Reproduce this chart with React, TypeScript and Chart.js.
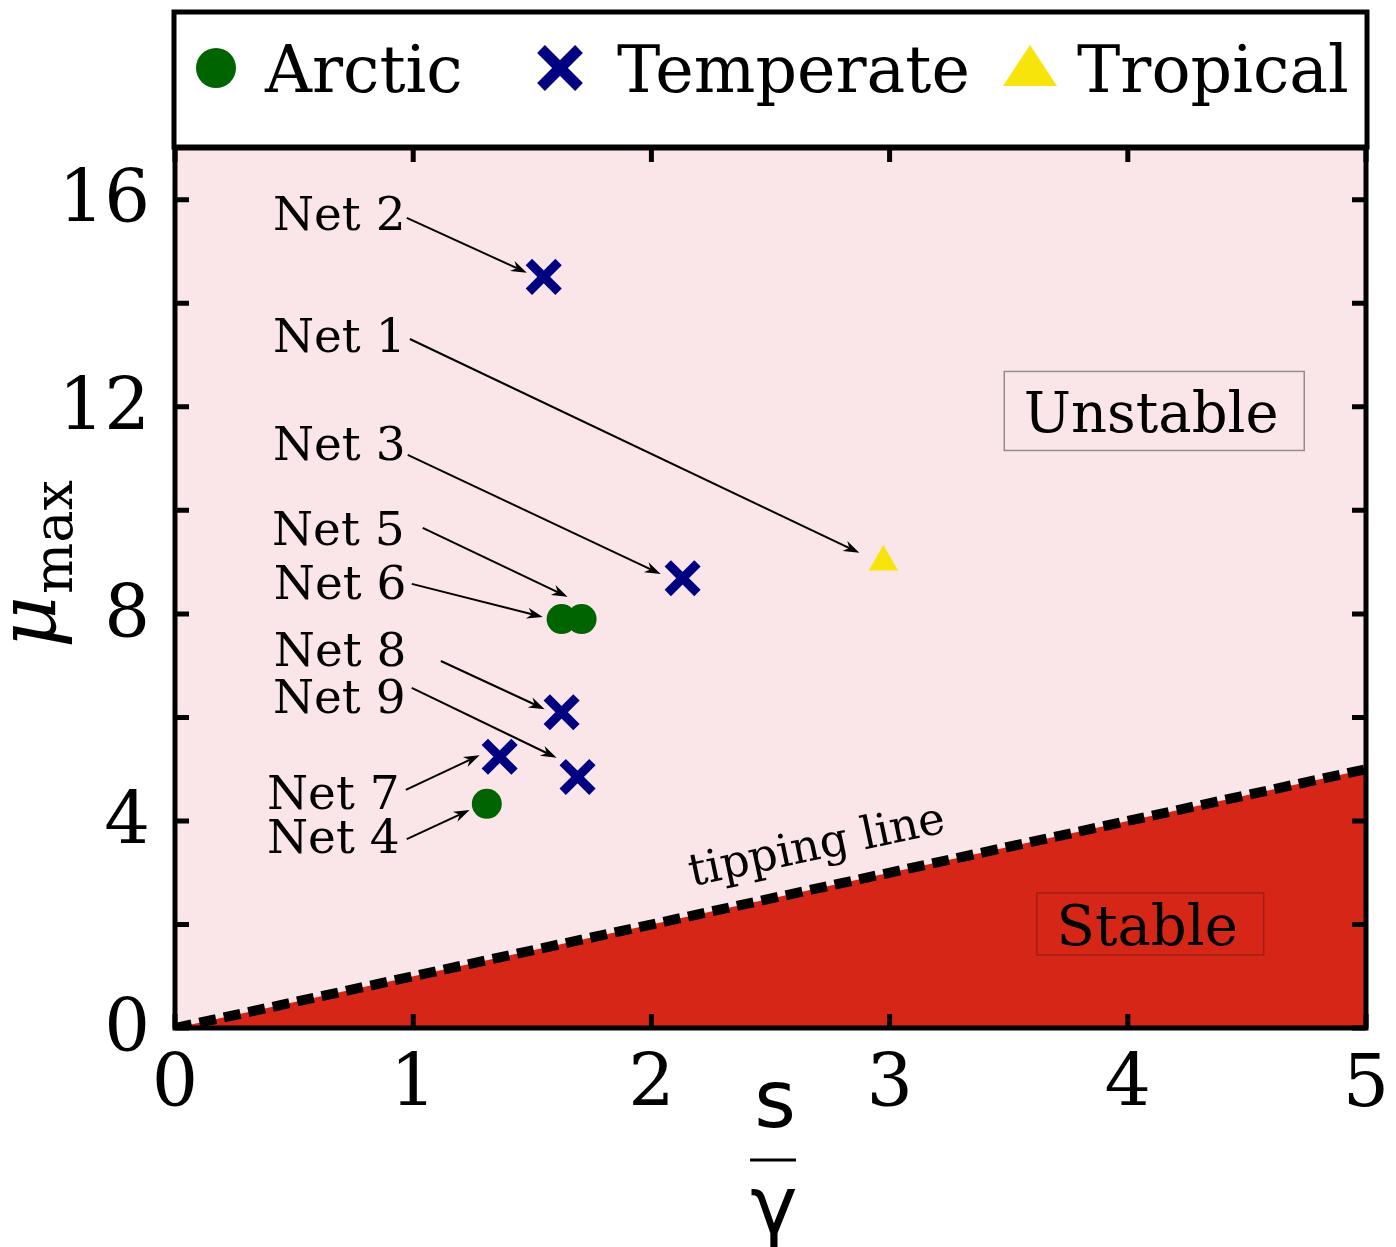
import React, { useEffect, useRef } from 'react';
import { Chart, registerables } from 'chart.js';

Chart.register(...registerables);

// ---------------- data ----------------
const seriesNames = ['Arctic', 'Temperate', 'Tropical'];

// Arctic: Net 4, Net 5, Net 6
const arcticX = [1.309, 1.707, 1.623];
const arcticY = [4.33, 7.9, 7.9];

// Temperate: Net 2, Net 3, Net 7, Net 8, Net 9
const temperateX = [1.548, 2.131, 1.363, 1.623, 1.69];
const temperateY = [14.51, 8.69, 5.24, 6.1, 4.85];

// Tropical: Net 1
const tropicalX = [2.974];
const tropicalY = [9.0];

// tipping line mu_max = s / gamma
const tippingX = [0, 5];
const tippingY = [0, 5];

const xMin = 0;
const xMax = 5;
const yMin = 0;
const yMax = 17;
const xTickStep = 1;
const yTickStep = 2;
const yLabelStep = 4;

// annotations (data coordinates): label text anchor, arrow start, arrow end
const netNames = ['Net 2', 'Net 1', 'Net 3', 'Net 5', 'Net 6', 'Net 8', 'Net 9', 'Net 7', 'Net 4'];
const netTextX = [0.411, 0.411, 0.411, 0.407, 0.415, 0.415, 0.411, 0.386, 0.386];
const netTextY = [15.75, 13.39, 11.3, 9.66, 8.62, 7.32, 6.41, 4.56, 3.71];
const arrowFromX = [0.973, 0.986, 0.977, 1.04, 0.994, 1.116, 0.994, 0.969, 0.973];
const arrowFromY = [15.65, 13.31, 11.07, 9.66, 8.58, 7.09, 6.57, 4.6, 3.65];
const arrowToX = [1.477, 2.873, 2.039, 1.648, 1.544, 1.552, 1.602, 1.279, 1.237];
const arrowToY = [14.59, 9.18, 8.77, 8.33, 7.94, 6.16, 5.22, 5.27, 4.21];

const regionNames = ['Unstable', 'Stable'];
const regionX = [4.111, 4.094];
const regionY = [11.92, 2.01];

const tippingLabel = 'tipping line';
const tippingLabelX = 2.17;
const tippingLabelY = 2.74;

// ---------------- styles ----------------
const W = 1396;
const H = 1247;
const SERIF = '"DejaVu Serif", serif';
const SANS = '"DejaVu Sans", sans-serif';
const PINK = 'rgb(250, 230, 233)';
const RED = 'rgb(214, 38, 24)';
const GREEN = '#006400';
const NAVY = '#000080';
const YELLOW = 'rgb(247, 228, 10)';

function drawArrow(ctx: CanvasRenderingContext2D, x1: number, y1: number, x2: number, y2: number) {
  const ang = Math.atan2(y2 - y1, x2 - x1);
  const len = 16;
  const hw = 5.5;
  const notch = 11;
  const bx = x2 - Math.cos(ang) * notch;
  const by = y2 - Math.sin(ang) * notch;
  ctx.save();
  ctx.strokeStyle = '#000';
  ctx.fillStyle = '#000';
  ctx.lineWidth = 2;
  ctx.beginPath();
  ctx.moveTo(x1, y1);
  ctx.lineTo(bx, by);
  ctx.stroke();
  const cx = x2 - Math.cos(ang) * len;
  const cy = y2 - Math.sin(ang) * len;
  const px = -Math.sin(ang);
  const py = Math.cos(ang);
  ctx.beginPath();
  ctx.moveTo(x2, y2);
  ctx.lineTo(cx + px * hw, cy + py * hw);
  ctx.lineTo(bx, by);
  ctx.lineTo(cx - px * hw, cy - py * hw);
  ctx.closePath();
  ctx.fill();
  ctx.restore();
}

const decorPlugin = {
  id: 'decor',
  beforeDraw(chart: any) {
    const { ctx, chartArea: a } = chart;
    ctx.save();
    ctx.fillStyle = '#fff';
    ctx.fillRect(0, 0, chart.width, chart.height);
    ctx.fillStyle = PINK;
    ctx.fillRect(a.left, a.top, a.right - a.left, a.bottom - a.top);
    ctx.restore();
  },
  afterDatasetsDraw(chart: any) {
    const { ctx, scales } = chart;
    const xs = scales.x;
    const ys = scales.y;
    ctx.save();

    // region labels with boxes
    const boxes = [
      { w: 300, h: 79, edge: 'rgb(150, 140, 142)' },
      { w: 227, h: 62, edge: 'rgb(160, 30, 20)' },
    ];
    regionNames.forEach((name, i) => {
      const cx = xs.getPixelForValue(regionX[i]);
      const cy = ys.getPixelForValue(regionY[i]);
      const b = boxes[i];
      ctx.lineWidth = 1.5;
      ctx.strokeStyle = b.edge;
      ctx.strokeRect(cx - b.w / 2, cy - b.h / 2, b.w, b.h);
      ctx.fillStyle = '#000';
      ctx.font = `56px ${SERIF}`;
      ctx.textAlign = 'center';
      ctx.textBaseline = 'alphabetic';
      ctx.fillText(name, cx - 3, cy + 21);
    });

    // tipping line label
    ctx.save();
    ctx.translate(xs.getPixelForValue(tippingLabelX), ys.getPixelForValue(tippingLabelY));
    ctx.rotate((-12 * Math.PI) / 180);
    ctx.font = `45px ${SERIF}`;
    ctx.textAlign = 'left';
    ctx.textBaseline = 'alphabetic';
    ctx.fillStyle = '#000';
    ctx.fillText(tippingLabel, 0, 0);
    ctx.restore();

    // net annotations
    ctx.font = `47px ${SERIF}`;
    ctx.textAlign = 'left';
    ctx.textBaseline = 'alphabetic';
    ctx.fillStyle = '#000';
    netNames.forEach((name, i) => {
      const tx = xs.getPixelForValue(netTextX[i]);
      const ty = ys.getPixelForValue(netTextY[i]);
      ctx.fillText(name, tx, ty + 17);
      drawArrow(
        ctx,
        xs.getPixelForValue(arrowFromX[i]),
        ys.getPixelForValue(arrowFromY[i]),
        xs.getPixelForValue(arrowToX[i]),
        ys.getPixelForValue(arrowToY[i])
      );
    });
    ctx.restore();
  },
  afterDraw(chart: any) {
    const { ctx, chartArea: a, scales } = chart;
    const xs = scales.x;
    const ys = scales.y;
    ctx.save();

    // spines
    ctx.strokeStyle = '#000';
    ctx.lineWidth = 5;
    ctx.strokeRect(a.left, a.top, a.right - a.left, a.bottom - a.top);

    // inside ticks on all sides
    const tl = 14;
    ctx.lineWidth = 5;
    ctx.beginPath();
    xs.ticks.forEach((t: any) => {
      const px = xs.getPixelForValue(t.value);
      ctx.moveTo(px, a.bottom);
      ctx.lineTo(px, a.bottom - tl);
      ctx.moveTo(px, a.top);
      ctx.lineTo(px, a.top + tl);
    });
    ys.ticks.forEach((t: any) => {
      const py = ys.getPixelForValue(t.value);
      ctx.moveTo(a.left, py);
      ctx.lineTo(a.left + tl, py);
      ctx.moveTo(a.right, py);
      ctx.lineTo(a.right - tl, py);
    });
    ctx.stroke();

    // legend box
    const lt = 12;
    const lb = a.top - 1;
    ctx.lineWidth = 5;
    ctx.strokeRect(a.left - 1, lt, a.right - a.left + 2, lb - lt);
    const my = 68;
    const ds = chart.data.datasets;
    // Arctic marker
    ctx.fillStyle = GREEN;
    ctx.beginPath();
    ctx.arc(216, my, 20, 0, Math.PI * 2);
    ctx.fill();
    // Temperate marker
    ctx.strokeStyle = NAVY;
    ctx.lineWidth = 11;
    ctx.beginPath();
    ctx.moveTo(560 - 19, my - 19);
    ctx.lineTo(560 + 19, my + 19);
    ctx.moveTo(560 + 19, my - 19);
    ctx.lineTo(560 - 19, my + 19);
    ctx.stroke();
    // Tropical marker
    ctx.fillStyle = YELLOW;
    ctx.beginPath();
    ctx.moveTo(1030, 45);
    ctx.lineTo(1057, 86);
    ctx.lineTo(1003, 86);
    ctx.closePath();
    ctx.fill();
    ctx.fillStyle = '#000';
    ctx.font = `65px ${SERIF}`;
    ctx.textAlign = 'left';
    ctx.textBaseline = 'alphabetic';
    const textXs = [265, 617, 1077];
    for (let i = 0; i < 3; i++) ctx.fillText(ds[i].label, textXs[i], 92);

    // x axis title: s / gamma
    ctx.fillStyle = '#000';
    ctx.strokeStyle = '#000';
    ctx.font = `80px ${SANS}`;
    ctx.textAlign = 'center';
    ctx.fillText('s', 775, 1127);
    ctx.lineWidth = 3;
    ctx.beginPath();
    ctx.moveTo(750, 1160);
    ctx.lineTo(796, 1160);
    ctx.stroke();
    ctx.fillText('\u03b3', 774, 1233);

    // y axis title: mu_max
    ctx.textAlign = 'left';
    ctx.save();
    ctx.translate(55, 648);
    ctx.rotate(-Math.PI / 2);
    ctx.font = `italic 80px ${SERIF}`;
    ctx.fillText('\u03bc', 0, 0);
    ctx.restore();
    ctx.save();
    ctx.translate(72, 594);
    ctx.rotate(-Math.PI / 2);
    ctx.font = `54px ${SERIF}`;
    ctx.fillText('max', 0, 0);
    ctx.restore();

    ctx.restore();
  },
};

function zeroPadding(s: any) {
  s.paddingLeft = 0;
  s.paddingRight = 0;
  s.paddingTop = 0;
  s.paddingBottom = 0;
}

export default function App() {
  const ref = useRef<HTMLCanvasElement>(null);
  useEffect(() => {
    document.body.style.margin = '0';
    const canvas = ref.current!;
    const toPts = (xsArr: number[], ysArr: number[]) => xsArr.map((x, i) => ({ x, y: ysArr[i] }));
    const chart = new Chart(canvas, {
      type: 'scatter',
      data: {
        datasets: [
          {
            label: seriesNames[0],
            data: toPts(arcticX, arcticY),
            pointStyle: 'circle',
            pointRadius: 15,
            backgroundColor: GREEN,
            borderWidth: 0,
          },
          {
            label: seriesNames[1],
            data: toPts(temperateX, temperateY),
            pointStyle: 'crossRot',
            pointRadius: 21,
            borderColor: NAVY,
            backgroundColor: NAVY,
            borderWidth: 9,
          },
          {
            label: seriesNames[2],
            data: toPts(tropicalX, tropicalY),
            pointStyle: 'triangle',
            pointRadius: 17,
            backgroundColor: YELLOW,
            borderWidth: 0,
          },
          {
            type: 'line',
            label: 'tipping line',
            data: toPts(tippingX, tippingY),
            borderColor: '#000',
            borderWidth: 10,
            borderDash: [17, 8],
            backgroundColor: RED,
            fill: 'origin',
            pointRadius: 0,
            tension: 0,
          } as any,
        ],
      },
      options: {
        responsive: false,
        animation: false,
        devicePixelRatio: 1,
        events: [],
        layout: { padding: { top: 148, right: 29, left: 0, bottom: 0 } },
        plugins: { legend: { display: false }, tooltip: { enabled: false }, title: { display: false } },
        scales: {
          x: {
            type: 'linear',
            position: 'bottom',
            min: xMin,
            max: xMax,
            grid: { display: false, drawTicks: false },
            border: { display: false },
            ticks: {
              stepSize: xTickStep,
              autoSkip: false,
              maxRotation: 0,
              padding: 15,
              color: '#000',
              font: { family: SERIF, size: 73 },
              callback: (v: any) => String(v),
            },
            afterFit: (s: any) => {
              s.height = 219;
              zeroPadding(s);
            },
          },
          y: {
            type: 'linear',
            position: 'left',
            min: yMin,
            max: yMax,
            grid: { display: false, drawTicks: false },
            border: { display: false },
            ticks: {
              stepSize: yTickStep,
              includeBounds: false,
              autoSkip: false,
              padding: 25,
              labelOffset: 4,
              color: '#000',
              font: { family: SERIF, size: 72 },
              callback: (v: any) => (Number(v) % yLabelStep === 0 ? String(v) : ''),
            },
            afterFit: (s: any) => {
              s.width = 175;
              zeroPadding(s);
            },
          },
        },
      },
      plugins: [decorPlugin],
    } as any);
    return () => chart.destroy();
  }, []);
  return (
    <div style={{ width: W, height: H, position: 'relative' }}>
      <canvas ref={ref} width={W} height={H} style={{ display: 'block', width: W, height: H }} />
    </div>
  );
}
